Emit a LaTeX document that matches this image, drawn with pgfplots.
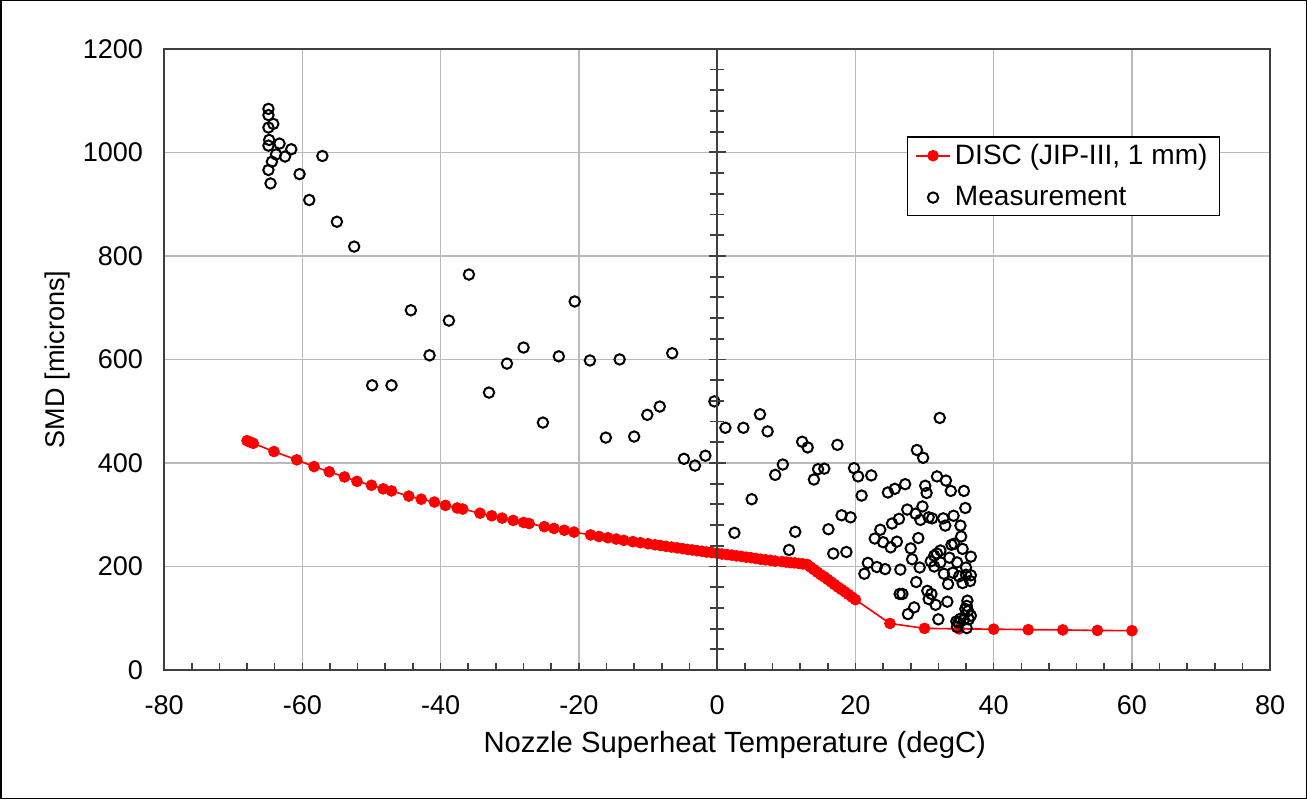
\documentclass[border=0pt]{standalone}
\usepackage{pgfplots}
\pgfplotsset{compat=1.18}
\usepackage{fontspec}
\setmainfont{Liberation Sans}
\definecolor{gridgray}{RGB}{185,185,185}
\definecolor{axgray}{RGB}{64,64,64}
\begin{document}
\begin{tikzpicture}
\begin{axis}[
  scale only axis, width=552pt, height=310pt,
  xmin=-80, xmax=80, ymin=0, ymax=1200,
  xtick={-80,-60,...,80}, ytick={0,200,...,1200},
  minor x tick num=4,
  /pgf/number format/assume math mode=true,
  /pgf/number format/set thousands separator={},
  tick label style={font=\fontsize{13.5}{16}\selectfont},
  xticklabel style={yshift=-9pt},
  yticklabel style={xshift=-7pt},
  tick align=inside,
  major tick length=3.5pt, minor tick length=3.5pt,
  xtick pos=bottom,
  y tick style={draw=none},
  every tick/.style={axgray, line width=0.8pt},
  grid=major,
  major grid style={gridgray, line width=0.7pt},
  axis line style={axgray, line width=0.9pt},
  xlabel={Nozzle Superheat Temperature (degC)},
  ylabel={SMD [microns]},
  every axis x label/.style={at={(axis description cs:0.516,-0.121)}, anchor=center, font=\fontsize{14.6}{17}\selectfont},
  every axis y label/.style={at={(axis description cs:-0.096,0.5)}, anchor=center, rotate=90, font=\fontsize{13.5}{16}\selectfont},
  legend style={at={(0.9547,0.859)}, anchor=north east, draw=black, line width=0.6pt,
    font=\fontsize{14}{17}\selectfont, row sep=5.5pt, inner xsep=4pt, inner ysep=1.5pt,
    cells={anchor=west}},
  legend cell align=left,
  clip=false,
]
\addplot[red, line width=0.8pt, mark=*, mark size=2.7pt, mark options={fill=red, draw=red, line width=0.4pt}] coordinates {
(-68.0,443) (-67.5,440) (-67.1,438) (-64.1,422) (-60.8,406) (-58.3,393) (-56.1,383)
(-53.9,373) (-52.1,364.5) (-50.0,357) (-48.3,350) (-47.1,346) (-44.6,336) (-42.8,330)
(-40.9,324.5) (-39.3,318) (-37.6,313) (-36.8,311) (-34.3,303) (-32.6,298) (-31.1,293.5)
(-29.5,289) (-28.0,285) (-27.2,283) (-25.0,277) (-23.6,273.5) (-22.1,270) (-20.7,266.5)
(-18.3,261) (-17.1,258) (-15.8,255.5) (-14.6,253) (-13.5,250.5) (-12.2,248) (-11.1,246)
(-10.0,244) (-9.0,242) (-8.2,240.5) (-7.4,239) (-6.6,237.5) (-5.8,236) (-5.0,234.5)
(-4.3,233) (-3.6,232) (-2.9,230.5) (-2.2,229.5) (-1.5,228) (-0.8,227) (0,225.5)
(0.7,224) (1.4,223) (2.1,222) (2.8,220.5) (3.5,219.5) (4.2,218) (4.9,217) (5.6,215.5)
(6.3,214) (7.0,213) (7.7,212) (8.4,210.5) (9.4,209.5) (10.0,208.5) (10.6,207.5)
(11.2,207) (11.8,206) (12.4,205) (13.0,204) (13.5,199) (14.0,194) (14.5,189) (15.0,184)
(15.5,180) (16.0,175) (16.5,170) (17.0,165) (17.5,160) (18.0,155.5) (18.5,151)
(19.0,146) (19.5,141) (20.0,136) (25,90) (30,80.5) (35,79.5) (40,79) (45,78)
(50,77.5) (55,76.5) (60,76)
};
\addlegendentry{DISC (JIP-III, 1 mm)}
\addplot[only marks, mark=o, mark size=2.6pt, mark options={black, line width=1pt}] coordinates {
(-64.9,1084) (-64.9,1072) (-64.2,1055) (-64.9,1048) (-64.8,1024) (-64.9,1013) (-63.3,1017)
(-61.6,1006) (-63.8,996) (-62.5,992) (-57.1,993) (-64.4,982) (-64.9,966) (-60.4,958)
(-64.6,940) (-59.0,908) (-55.0,866) (-52.5,818) (-44.3,695) (-38.8,675) (-35.9,764)
(-41.6,608) (-49.9,550) (-47.1,550) (-33.0,536) (-30.4,592) (-28.0,623) (-20.6,712)
(-22.9,606) (-25.2,478) (-18.4,598) (-14.1,600) (-16.1,449) (-12.0,451) (-10.1,493)
(-8.3,509) (-6.5,612) (-4.8,408) (-3.2,395) (-1.7,414) (-0.4,519)
(1.2,468) (3.8,468) (6.2,494) (7.3,461) (12.3,441) (13.1,430) (17.4,435) (9.5,397)
(8.4,377) (14.6,388) (15.5,389) (14.0,368) (19.8,390) (20.4,374) (22.3,376) (20.9,337)
(5.0,330) (18.0,299) (19.3,295) (16.1,272) (11.3,267) (2.5,265) (10.4,232) (16.8,225)
(18.7,228) (21.8,207) (21.3,186) (23.1,199) (24.3,195) (24.7,343) (25.7,350) (25.3,283)
(26.3,292) (22.8,254) (23.6,271) (24.0,247) (25.1,237) (26.0,248) (26.5,194) (26.4,147)
(32.2,487) (28.9,425) (29.8,410) (31.8,374) (33.1,366) (33.8,346) (35.7,346) (35.9,313)
(30.1,356) (30.3,342) (27.2,359) (27.5,310) (29.7,316) (28.7,302) (29.4,290) (30.6,295)
(31.1,293) (32.7,293) (33.0,279) (34.2,298) (35.2,279) (29.1,255) (28.0,235) (28.2,214)
(29.3,198) (35.3,258) (33.9,242) (34.3,244) (35.5,234) (36.7,219) (32.3,231) (31.8,225)
(31.4,221) (30.9,210) (31.4,200) (32.3,208) (33.6,217) (34.7,208) (36.0,198) (32.8,186)
(34.1,188) (35.0,181) (36.0,184) (36.7,183) (35.5,168) (36.6,172) (33.4,166) (28.8,170)
(26.8,147) (30.4,153) (31.0,147) (30.6,137) (31.6,126) (33.3,132) (28.5,121) (27.6,108)
(32.0,98) (36.2,134) (36.1,124) (35.9,118) (36.3,114) (36.7,105) (36.4,98) (34.6,94)
(35.2,99) (34.9,92) (36.1,81) (34.7,83) (35.7,97)
};
\addlegendentry{Measurement}
\end{axis}
\begin{axis}[
  scale only axis, width=552pt, height=310pt,
  xmin=-80, xmax=80, ymin=0, ymax=1200,
  axis x line=none, axis y line=center,
  y axis line style={-, axgray, line width=1pt},
  ytick={0,200,...,1200}, minor y tick num=4,
  yticklabels={},
  tick align=center,
  major tick length=8.5pt, minor tick length=7pt,
  every tick/.style={axgray, line width=0.9pt},
]
\end{axis}
\draw[black, line width=0.75pt] (-81.5pt,-64pt) rectangle (570pt,334pt);
\end{tikzpicture}
\end{document}
